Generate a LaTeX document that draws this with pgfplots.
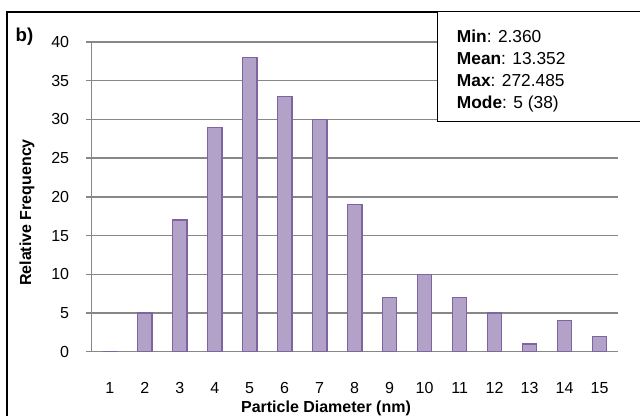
\documentclass[border=0pt]{standalone}
\usepackage{pgfplots}
\pgfplotsset{compat=1.18}
\usepackage{fontspec}
\setmainfont{Liberation Sans}

\definecolor{barfill}{HTML}{B3A2C7}
\definecolor{barline}{HTML}{8064A2}
\definecolor{gridgray}{HTML}{878787}

\begin{document}
\begin{tikzpicture}
\begin{axis}[
  at={(0,0)}, anchor=south west,
  scale only axis,
  width=395pt, height=232.3pt,
  xmin=0.474, xmax=15.526,
  ymin=0, ymax=40,
  xtick={1,...,15},
  ytick={0,5,...,40},
  axis x line*=bottom,
  axis y line*=left,
  axis line style={draw=gridgray, line width=1pt, -},
  ymajorgrids,
  grid style={draw=gridgray, line width=1pt},
  tick align=outside,
  major tick length=4pt,
  xtick style={draw=none},
  ytick style={draw=gridgray, line width=1pt},
  /pgf/number format/assume math mode=true,
  tick label style={font=\fontsize{12}{14}\selectfont},
  yticklabel style={anchor=east, inner sep=0pt, xshift=-12.5pt},
  xticklabel style={anchor=base, inner sep=0pt, yshift=-27pt},
  every axis x label/.style={at={(axis description cs:0.4456,-0.197)}, anchor=base},
  every axis y label/.style={at={(axis description cs:-0.122,0.4495)}, rotate=90, anchor=center},
  label style={font=\fontsize{12}{14}\selectfont\bfseries},
  xlabel={Particle Diameter (nm)},
  ylabel={Relative Frequency},
  ybar, bar width=0.41, bar shift=0pt,
]
\addplot[fill=barfill, draw=barline, line width=1pt]
coordinates {(1,0) (2,5) (3,17) (4,29) (5,38) (6,33) (7,30) (8,19)
  (9,7) (10,10) (11,7) (12,5) (13,1) (14,4) (15,2)};
\end{axis}
% chart frame, cut by the page on the right and at the bottom
\draw[black, line width=1pt] (-63.2pt,-60pt) rectangle (430pt,254.8pt);
% stats box
\draw[black, line width=0.7pt, fill=white] (259.3pt,173pt) rectangle (430pt,255.5pt);
\begin{scope}[every node/.style={anchor=base west, inner sep=0pt, font=\fontsize{13}{15}\selectfont}]
\node at (274pt,231.7pt) {\textbf{Min}: 2.360};
\node at (274pt,215.2pt) {\textbf{Mean}: 13.352};
\node at (274pt,198.7pt) {\textbf{Max}: 272.485};
\node at (274pt,182.2pt) {\textbf{Mode}: 5 (38)};
\end{scope}
\node[anchor=base west, inner sep=0pt, font=\fontsize{14}{16}\selectfont\bfseries] at (-57pt,233pt) {b)};
\pgfresetboundingbox
\path (-68.5pt,-48.2pt) rectangle (411.5pt,263.8pt);
\end{tikzpicture}
\end{document}
